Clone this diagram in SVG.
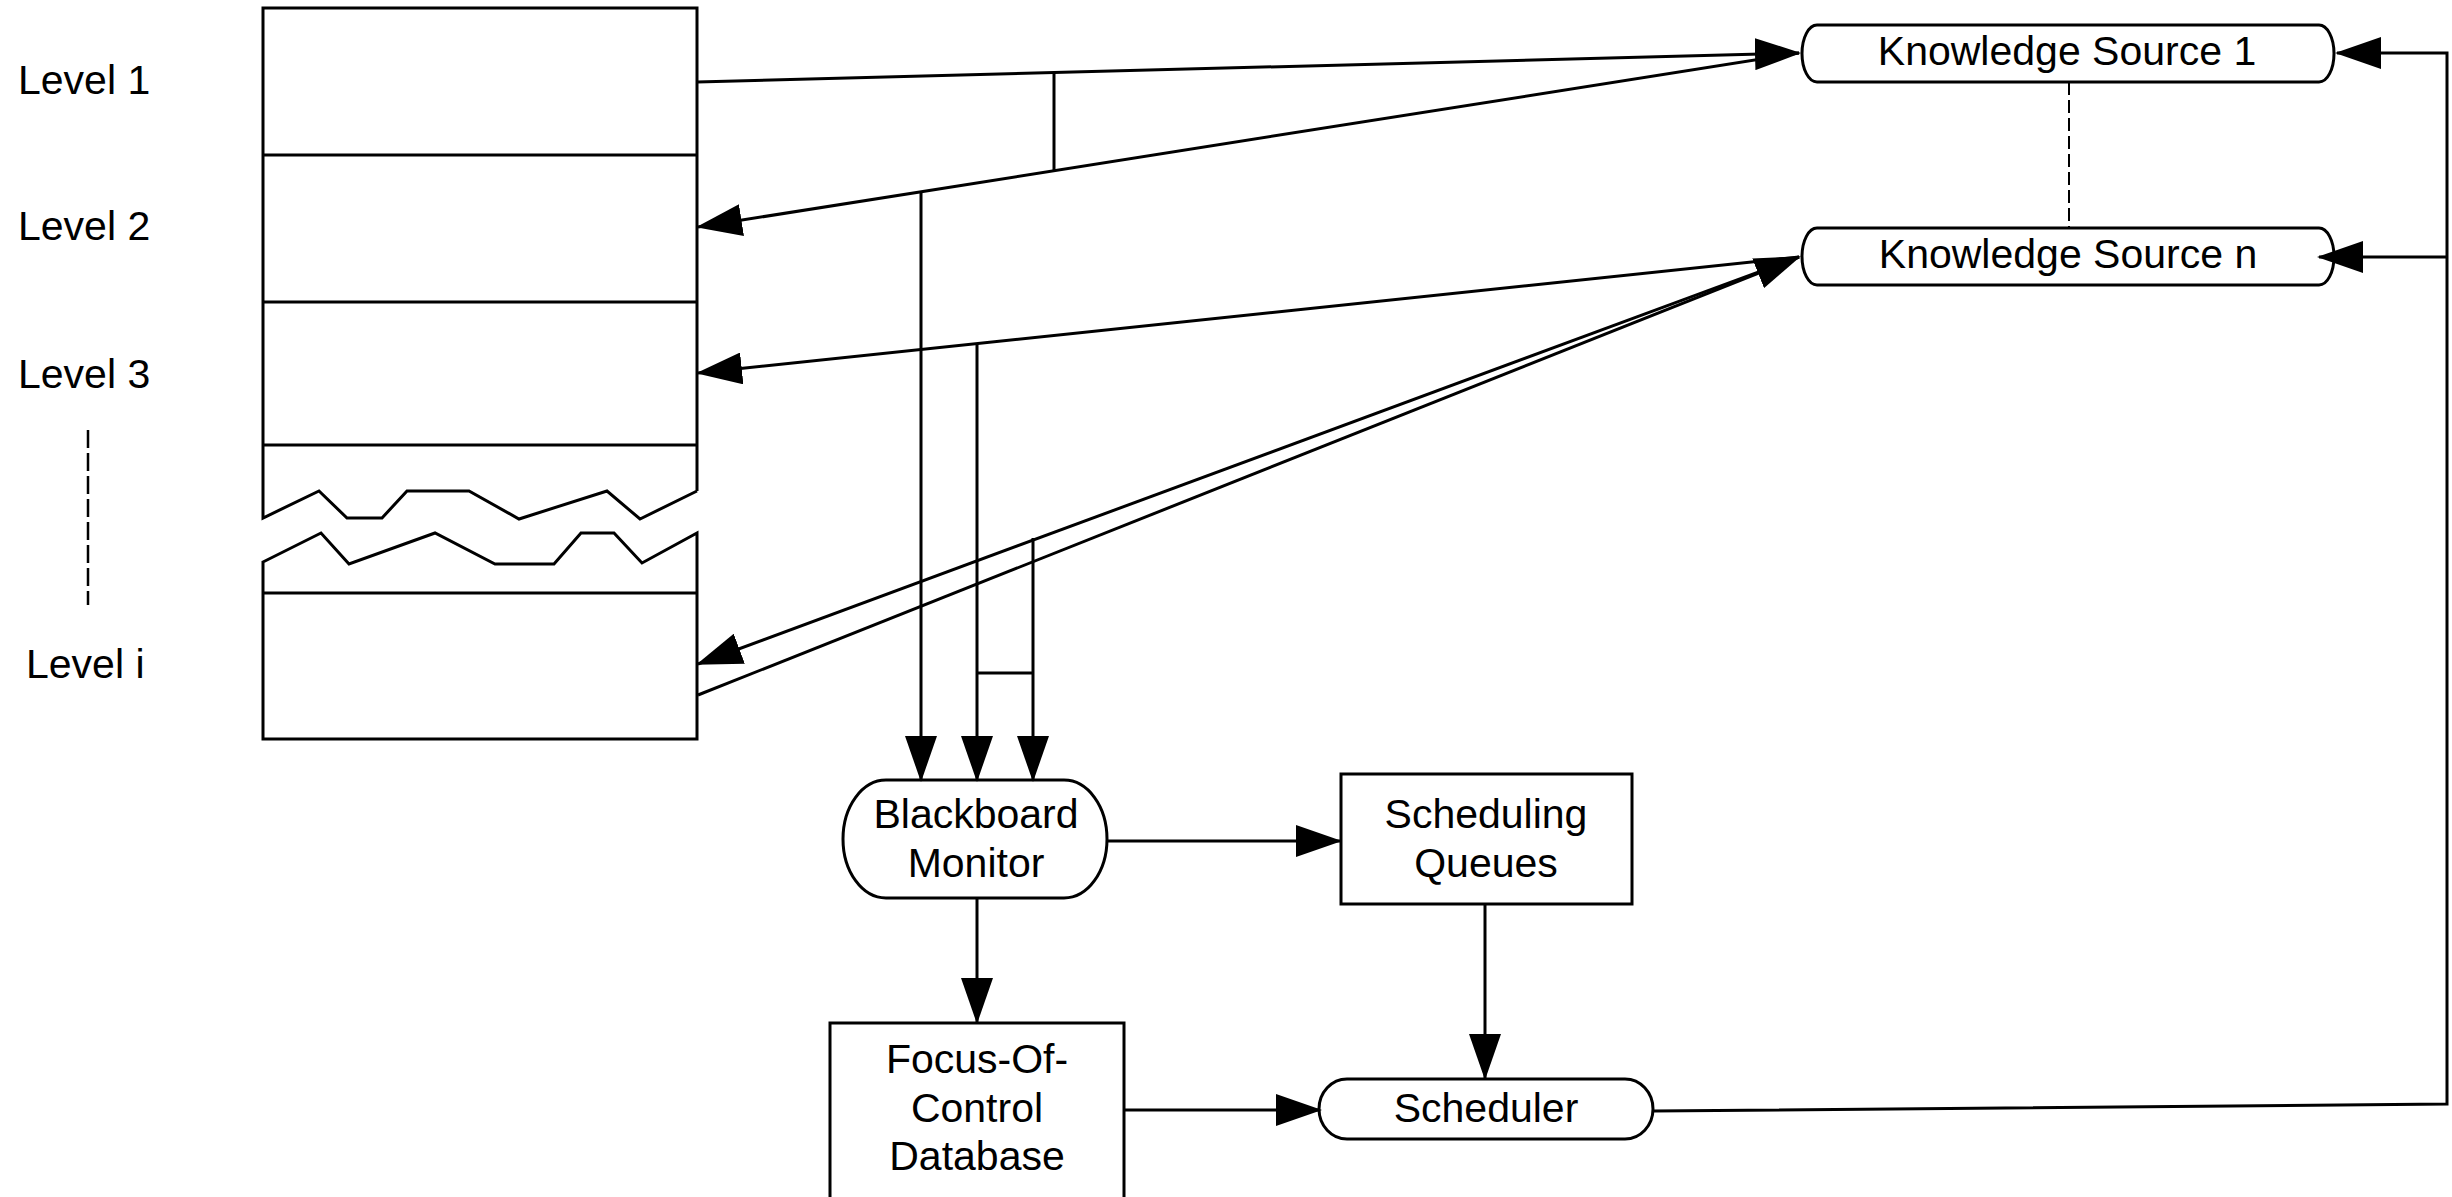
<svg xmlns="http://www.w3.org/2000/svg" width="2452" height="1197" viewBox="0 0 2452 1197">
<style>
.ln{fill:none;stroke:#000;stroke-width:3}
.nd{fill:#fff;stroke:#000;stroke-width:3}
.tx{font-family:"Liberation Sans",Arial,sans-serif;font-size:41px;fill:#000}
.c{text-anchor:middle}
.dash{fill:none;stroke:#000;stroke-width:2.5;stroke-dasharray:18,5}
.dash2{fill:none;stroke:#000;stroke-width:2;stroke-dasharray:13,5}
</style>
<defs>
<marker id="ah" markerUnits="userSpaceOnUse" markerWidth="46" markerHeight="32" refX="44" refY="16" orient="auto" viewBox="0 0 46 32">
<path d="M0,0 L46,16 L0,32 Z" fill="#000"/>
</marker>
</defs>
<rect width="2452" height="1197" fill="#fff"/>

<g id="blackboard">
<path class="nd" d="M697,491 L697,8 L263,8 L263,518 L319,491 L347,518 L382,518 L407,491 L469,491 L519,519 L607,491 L640,519 L697,491"/>
<path class="nd" d="M263,562 L321,533 L349,564 L435,533 L495,564 L554,564 L581,533 L614,533 L642,563 L697,533 L697,739 L263,739 Z"/>
<path class="ln" d="M263,155 H697 M263,302 H697 M263,445 H697 M263,593 H697"/>
<text class="tx" x="18" y="94">Level 1</text>
<text class="tx" x="18" y="240">Level 2</text>
<text class="tx" x="18" y="388">Level 3</text>
<text class="tx" x="26" y="678">Level i</text>
<line class="dash" x1="88" y1="430" x2="88" y2="605"/>
</g>

<g id="ks1">
<path class="nd" d="M1817,25 L2319,25 A15,28.5 0 0 1 2319,82 L1817,82 A15,28.5 0 0 1 1817,25 Z"/>
<text class="tx c" x="2067" y="65">Knowledge Source 1</text>
</g>

<g id="ksn">
<path class="nd" d="M1817,228 L2319,228 A15,28.5 0 0 1 2319,285 L1817,285 A15,28.5 0 0 1 1817,228 Z"/>
<text class="tx c" x="2068" y="268">Knowledge Source n</text>
</g>

<g id="bm">
<path class="nd" d="M886,780 L1064,780 A43,59 0 0 1 1064,898 L886,898 A43,59 0 0 1 886,780 Z"/>
<text class="tx c" x="976" y="828">Blackboard</text>
<text class="tx c" x="976" y="877">Monitor</text>
</g>

<g id="sq">
<rect class="nd" x="1341" y="774" width="291" height="130"/>
<text class="tx c" x="1486" y="828">Scheduling</text>
<text class="tx c" x="1486" y="877">Queues</text>
</g>

<g id="foc">
<rect class="nd" x="830" y="1023" width="294" height="190"/>
<text class="tx c" x="977" y="1073">Focus-Of-</text>
<text class="tx c" x="977" y="1122">Control</text>
<text class="tx c" x="977" y="1170">Database</text>
</g>

<g id="scheduler">
<path class="nd" d="M1347,1079 L1625,1079 A28,30 0 0 1 1625,1139 L1347,1139 A28,30 0 0 1 1347,1079 Z"/>
<text class="tx c" x="1486" y="1122">Scheduler</text>
</g>

<g id="connectors">
<line class="ln" x1="697" y1="82" x2="1799" y2="53" marker-end="url(#ah)"/>
<line class="ln" x1="1799" y1="53" x2="698" y2="227" marker-end="url(#ah)"/>
<line class="ln" x1="1054" y1="73" x2="1054" y2="171"/>
<line class="ln" x1="921" y1="192" x2="921" y2="780" marker-end="url(#ah)"/>
<line class="ln" x1="1799" y1="257" x2="698" y2="373" marker-end="url(#ah)"/>
<line class="ln" x1="977" y1="344" x2="977" y2="780" marker-end="url(#ah)"/>
<line class="ln" x1="1799" y1="257" x2="698" y2="664" marker-end="url(#ah)"/>
<line class="ln" x1="698" y1="695" x2="1799" y2="257" marker-end="url(#ah)"/>
<line class="ln" x1="1033" y1="538" x2="1033" y2="780" marker-end="url(#ah)"/>
<line class="ln" x1="977" y1="673" x2="1033" y2="673"/>
<line class="ln" x1="1107" y1="841" x2="1340" y2="841" marker-end="url(#ah)"/>
<line class="ln" x1="977" y1="898" x2="977" y2="1022" marker-end="url(#ah)"/>
<line class="ln" x1="1485" y1="904" x2="1485" y2="1078" marker-end="url(#ah)"/>
<line class="ln" x1="1124" y1="1110" x2="1320" y2="1110" marker-end="url(#ah)"/>
<polyline class="ln" points="1653,1111 2447,1104 2447,53 2337,53" marker-end="url(#ah)"/>
<line class="ln" x1="2447" y1="257" x2="2319" y2="257" marker-end="url(#ah)"/>
<line class="dash2" x1="2069" y1="82" x2="2069" y2="228"/>
</g>
</svg>
